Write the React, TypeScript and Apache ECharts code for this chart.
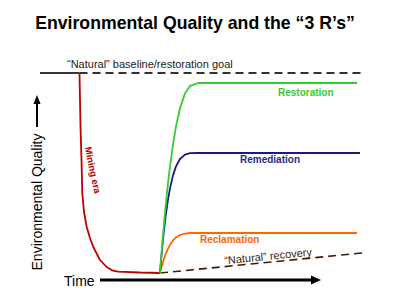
import React, { useEffect, useRef } from "react";
import * as echarts from "echarts";

// Conceptual axes: time 0..161, environmental quality 0..100
const baselineSolidTime = [0, 19.75];
const baselineSolidQuality = [100, 100];
const baselineDashedTime = [19.75, 161];
const baselineDashedQuality = [100, 100];

const miningTime = [19.75, 20, 20.25, 20.75, 21.15, 22, 23.35, 25, 26.65, 30, 33.35, 36.5, 39.15, 50, 60];
const miningQuality = [100, 86.5, 73, 56.5, 40, 30.5, 23, 17.5, 13, 6.5, 3, 1.15, 0.65, 0.25, 0];

const recoveryTime = [60, 60.25, 60.5, 61, 61.5, 62, 63, 64, 65, 66.5, 68, 70, 72.5, 75, 79];
const restorationQuality = [0, 3.3, 6.6, 12.9, 18.9, 24.6, 35.3, 44.8, 53.3, 64.3, 73.3, 82.4, 89.8, 93.6, 95];
const remediationQuality = [0, 3.1, 6.1, 11.7, 16.8, 21.5, 29.8, 36.7, 42.3, 48.8, 53.3, 57.0, 59.2, 59.9, 60];
const reclamationQuality = [0, 1.0, 2.0, 3.9, 5.6, 7.2, 9.9, 12.2, 14.1, 16.3, 17.8, 19.0, 19.7, 20.0, 20];
const restorationEnd = 158.5;
const remediationEnd = 160;
const reclamationEnd = 158.5;

const naturalTime = [60, 161];
const naturalQuality = [0, 10];

const FONT = "'Liberation Sans', Arial, sans-serif";

function zip(xs: number[], ys: number[]) {
  return xs.map((x, i) => [x, ys[i]]);
}

export default function App() {
  const ref = useRef<HTMLDivElement>(null);
  useEffect(() => {
    if (!ref.current) return;
    const chart = echarts.init(ref.current, undefined, { renderer: "svg" });
    const lineSeries = (name: string, data: number[][], color: string, width: number, dashed?: boolean) => ({
      name,
      type: "line",
      data,
      symbol: "none",
      silent: true,
      z: 2,
      lineStyle: { color, width, type: dashed ? [8, 5] : "solid" },
    });
    chart.setOption({
      animation: false,
      backgroundColor: "#ffffff",
      grid: { left: 40, right: 38, top: 73, bottom: 27, containLabel: false },
      xAxis: { type: "value", min: 0, max: 161, show: false },
      yAxis: { type: "value", min: 0, max: 100, show: false },
      series: [
        lineSeries("Natural recovery", zip(naturalTime, naturalQuality), "#3d1d0a", 1.6, true),
        lineSeries("Baseline", zip(baselineSolidTime, baselineSolidQuality), "#333333", 2),
        lineSeries("Baseline goal", zip(baselineDashedTime, baselineDashedQuality), "#333333", 2, true),
        lineSeries("Mining era", zip(miningTime, miningQuality), "#c00000", 1.8),
        lineSeries("Reclamation", [...zip(recoveryTime, reclamationQuality), [reclamationEnd, reclamationQuality[reclamationQuality.length - 1]]], "#ff6600", 1.8),
        lineSeries("Remediation", [...zip(recoveryTime, remediationQuality), [remediationEnd, remediationQuality[remediationQuality.length - 1]]], "#1a1a80", 1.8),
        lineSeries("Restoration", [...zip(recoveryTime, restorationQuality), [restorationEnd, restorationQuality[restorationQuality.length - 1]]], "#33cc33", 1.8),
      ],
      graphic: [
        {
          type: "text", x: 195, y: 23,
          style: { text: "Environmental Quality and the \u201C3 R\u2019s\u201D", font: `bold 17.7px ${FONT}`, fill: "#000", textAlign: "center", textVerticalAlign: "middle" },
        },
        {
          type: "text", x: 67, y: 64,
          style: { text: "\u201CNatural\u201D baseline/restoration goal", font: `11px ${FONT}`, fill: "#1a1a1a", textAlign: "left", textVerticalAlign: "middle" },
        },
        {
          type: "text", x: 278, y: 92,
          style: { text: "Restoration", font: `bold 10px ${FONT}`, fill: "#33cc33", textAlign: "left", textVerticalAlign: "middle" },
        },
        {
          type: "text", x: 240, y: 159,
          style: { text: "Remediation", font: `bold 10px ${FONT}`, fill: "#1f2a8a", textAlign: "left", textVerticalAlign: "middle" },
        },
        {
          type: "text", x: 200, y: 239,
          style: { text: "Reclamation", font: `bold 10px ${FONT}`, fill: "#ff6600", textAlign: "left", textVerticalAlign: "middle" },
        },
        {
          type: "text", x: 268, y: 256, rotation: 0.0986,
          style: { text: "\u201CNatural\u201D recovery", font: `11px ${FONT}`, fill: "#3d1d0a", textAlign: "center", textVerticalAlign: "middle" },
        },
        {
          type: "text", x: 93, y: 170, rotation: -78 * Math.PI / 180,
          style: { text: "Mining era", font: `bold 9.5px ${FONT}`, fill: "#c00000", textAlign: "center", textVerticalAlign: "middle" },
        },
        {
          type: "text", x: 37, y: 202, rotation: Math.PI / 2,
          style: { text: "Environmental Quality", font: `14px ${FONT}`, fill: "#000", textAlign: "center", textVerticalAlign: "middle" },
        },
        {
          type: "text", x: 64, y: 281,
          style: { text: "Time", font: `14px ${FONT}`, fill: "#000", textAlign: "left", textVerticalAlign: "middle" },
        },
        // y arrow
        { type: "line", shape: { x1: 37, y1: 127, x2: 37, y2: 102 }, style: { stroke: "#000", lineWidth: 2 } },
        { type: "polygon", shape: { points: [[37, 95], [33.5, 104], [40.5, 104]] }, style: { fill: "#000" } },
        // x arrow
        { type: "line", shape: { x1: 100, y1: 280, x2: 313, y2: 280 }, style: { stroke: "#000", lineWidth: 3 } },
        { type: "polygon", shape: { points: [[321, 280], [311, 275.5], [311, 284.5]] }, style: { fill: "#000" } },
      ],
    });
    return () => chart.dispose();
  }, []);
  return <div ref={ref} style={{ position: "absolute", left: 0, top: 0, width: 400, height: 300 }} />;
}
